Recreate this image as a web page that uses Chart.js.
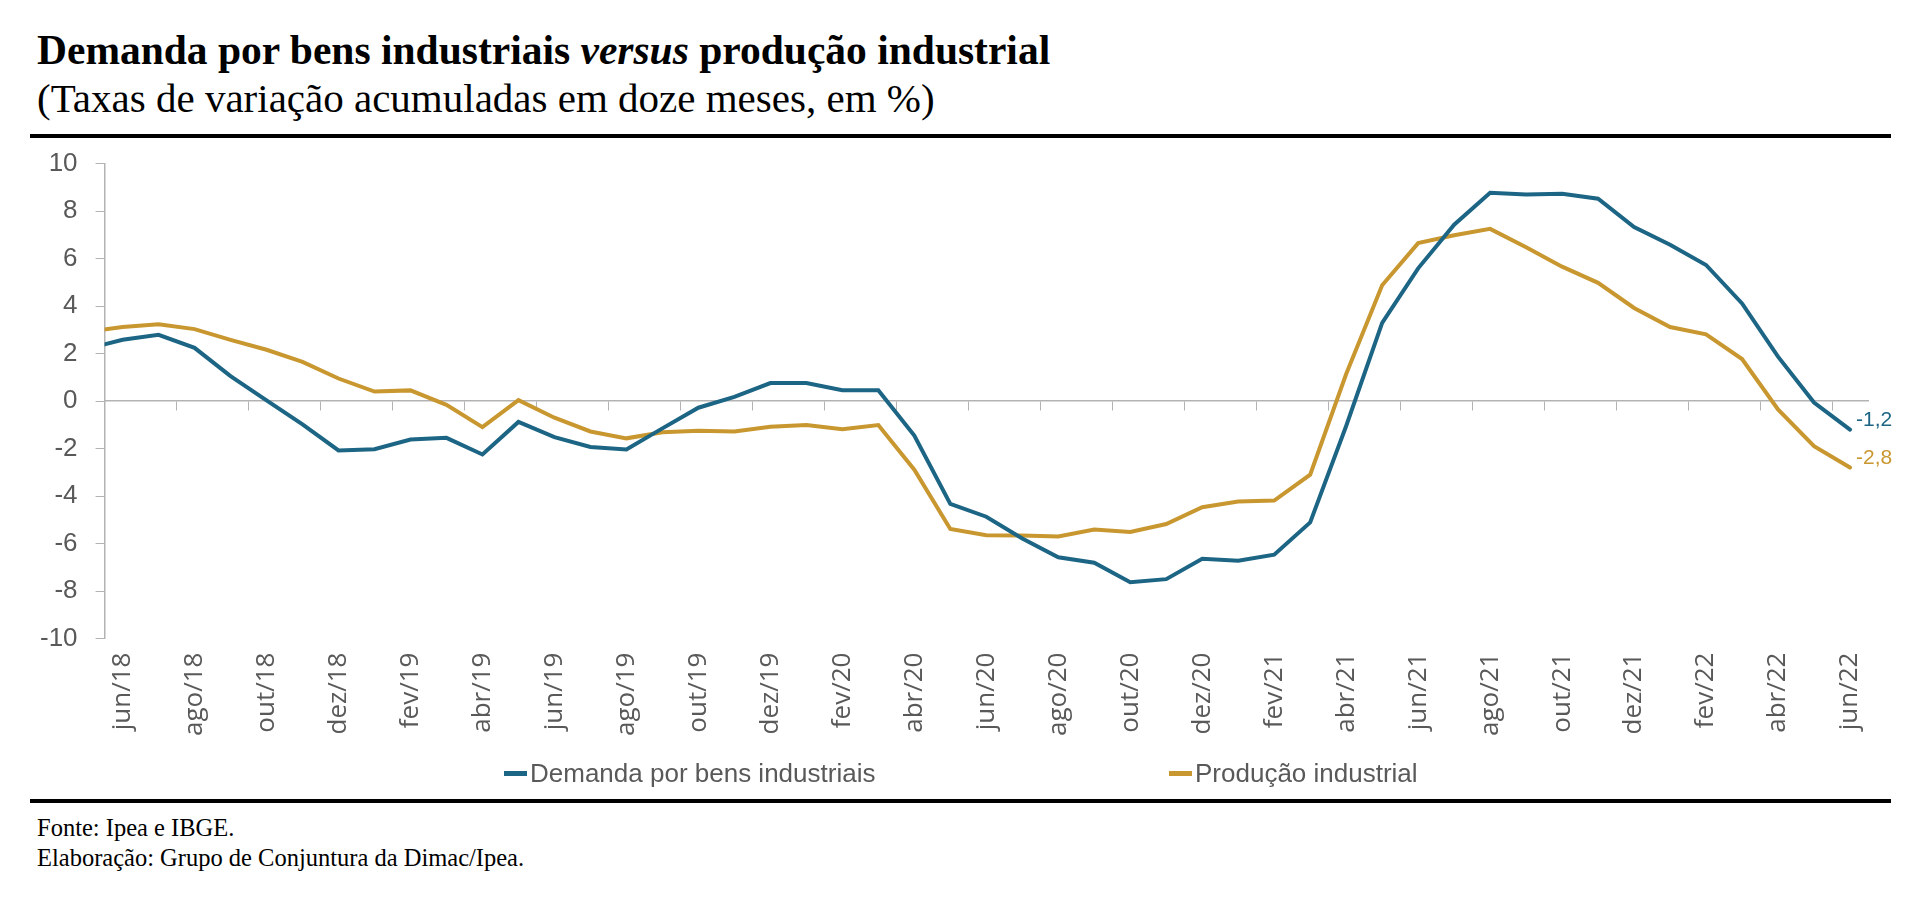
<!DOCTYPE html>
<html lang="pt-BR">
<head>
<meta charset="utf-8">
<title>Demanda por bens industriais versus produção industrial</title>
<script src="https://cdn.jsdelivr.net/npm/chart.js@4.4.1/dist/chart.umd.min.js"></script>
<style>
  html, body { margin: 0; padding: 0; background: #fff; }
  body { width: 1920px; height: 898px; position: relative; overflow: hidden; font-family: "Liberation Serif", "DejaVu Serif", serif; color: #000; }
  #titulo { position: absolute; left: 37px; top: 30px; font-size: 41.5px; line-height: 40px; font-weight: bold; white-space: nowrap; }
  #subtitulo { position: absolute; left: 37px; top: 78px; font-size: 41px; line-height: 40px; white-space: nowrap; }
  .regua { position: absolute; left: 30px; width: 1861px; height: 4px; background: #000; }
  #grafico { position: absolute; left: 0; top: 130px; width: 1920px; height: 630px; }
  #legenda { position: absolute; left: 0; top: 758px; width: 1920px; height: 30px; font-family: "Liberation Sans", Arial, sans-serif; font-size: 26px; color: #595959; }
  .item { position: absolute; top: 0; height: 30px; line-height: 30px; display: flex; align-items: center; white-space: nowrap; }
  .marca { display: inline-block; width: 23px; height: 5px; margin-right: 3px; }
  .rodape { position: absolute; left: 37px; font-size: 24.5px; line-height: 30px; white-space: nowrap; }
</style>
</head>
<body>
<div id="titulo">Demanda por bens industriais <i>versus</i> produção industrial</div>
<div id="subtitulo">(Taxas de variação acumuladas em doze meses, em %)</div>
<div class="regua" style="top:134px"></div>
<div id="grafico"><canvas id="cv"></canvas></div>
<div id="legenda"></div>
<div class="regua" style="top:799px"></div>
<div class="rodape" style="top:813px">Fonte: Ipea e IBGE.</div>
<div class="rodape" style="top:843px">Elaboração: Grupo de Conjuntura da Dimac/Ipea.</div>
<script>
// meses (mai/18 fica fora da área visível, só para o traço que entra pelo eixo)
var meses = ['mai/18','jun/18','jul/18','ago/18','set/18','out/18','nov/18','dez/18',
  'jan/19','fev/19','mar/19','abr/19','mai/19','jun/19','jul/19','ago/19','set/19','out/19','nov/19','dez/19',
  'jan/20','fev/20','mar/20','abr/20','mai/20','jun/20','jul/20','ago/20','set/20','out/20','nov/20','dez/20',
  'jan/21','fev/21','mar/21','abr/21','mai/21','jun/21','jul/21','ago/21','set/21','out/21','nov/21','dez/21',
  'jan/22','fev/22','mar/22','abr/22','mai/22','jun/22'];

var demanda = [2.2, 2.58, 2.79, 2.24, 1.05, 0.03, -0.98, -2.08,
  -2.03, -1.62, -1.55, -2.25, -0.88, -1.52, -1.93, -2.04, -1.15, -0.28, 0.18, 0.76,
  0.76, 0.46, 0.46, -1.45, -4.33, -4.87, -5.79, -6.58, -6.81, -7.63, -7.5, -6.64,
  -6.72, -6.47, -5.11, -1.05, 3.29, 5.59, 7.43, 8.77, 8.7, 8.73, 8.52, 7.33,
  6.58, 5.73, 4.11, 1.87, -0.06, -1.2];

var producao = [2.92, 3.12, 3.23, 3.03, 2.58, 2.16, 1.65, 0.95,
  0.4, 0.45, -0.16, -1.1, 0.04, -0.7, -1.28, -1.57, -1.31, -1.25, -1.28, -1.08,
  -1.01, -1.19, -1.01, -2.89, -5.39, -5.65, -5.66, -5.7, -5.41, -5.51, -5.18, -4.47,
  -4.23, -4.19, -3.1, 1.14, 4.88, 6.65, 6.98, 7.25, 6.48, 5.66, 4.98, 3.92,
  3.12, 2.81, 1.77, -0.35, -1.9, -2.8];

var series = ['Demanda por bens industriais', 'Produção industrial'];
var cores = ['#1d6584', '#c9972f'];
var primeiroMes = 'jun/18';

Chart.defaults.font.family = '"Liberation Sans", Arial, sans-serif';
Chart.defaults.font.size = 26;
Chart.defaults.color = '#595959';

var corEixo = '#b3b3b3';

// rótulo do último valor de cada série
var rotuloFinal = {
  id: 'rotuloFinal',
  afterDatasetsDraw: function(chart){
    var ctx = chart.ctx;
    ctx.save();
    ctx.font = '21px "Liberation Sans", Arial, sans-serif';
    ctx.textAlign = 'left';
    ctx.textBaseline = 'middle';
    chart.data.datasets.forEach(function(ds, i){
      var meta = chart.getDatasetMeta(i);
      var n = ds.data.length - 1;
      var pt = meta.data[n];
      ctx.fillStyle = ds.borderColor;
      ctx.fillText(ds.data[n].toFixed(1).replace('.', ','), pt.x + 6, pt.y - 9);
    });
    ctx.restore();
  }
};

var ctx = document.getElementById('cv').getContext('2d');
var grafico = new Chart(ctx, {
  type: 'line',
  data: {
    labels: meses,
    datasets: [
      { label: series[0], data: demanda, borderColor: cores[0], backgroundColor: cores[0] },
      { label: series[1], data: producao, borderColor: cores[1], backgroundColor: cores[1] }
    ]
  },
  options: {
    responsive: true,
    maintainAspectRatio: false,
    animation: false,
    layout: { padding: { left: 22, right: 52, top: 13, bottom: 10 } },
    elements: {
      line: { borderWidth: 4, tension: 0, borderCapStyle: 'round' },
      point: { radius: 0, hoverRadius: 0 }
    },
    plugins: { legend: { display: false }, tooltip: { enabled: false } },
    scales: {
      x: {
        type: 'category',
        offset: true,
        min: primeiroMes,
        grid: { display: false, drawTicks: false },
        border: { display: false },
        ticks: {
          autoSkip: false, minRotation: 90, maxRotation: 90, padding: 14,
          font: { family: '"Open Sans", "Liberation Sans", sans-serif', size: 26 },
          callback: function(v){ return v % 2 === 1 ? meses[v] : ''; }
        }
      },
      x2: {
        type: 'category',
        axis: 'x',
        position: { y: 0 },
        offset: true,
        min: primeiroMes,
        grid: {
          drawOnChartArea: false, drawTicks: true, tickLength: 9, offset: true,
          color: function(c){ return (c.index !== undefined && c.index % 2 === 0) ? corEixo : 'rgba(0,0,0,0)'; }
        },
        border: { display: true, color: corEixo, width: 1.5 },
        ticks: { display: false, autoSkip: false }
      },
      y: {
        min: -10, max: 10,
        ticks: { stepSize: 2, padding: 18 },
        grid: { drawOnChartArea: false, drawTicks: true, tickLength: 9, color: corEixo },
        border: { display: true, color: corEixo, width: 1.5 }
      }
    }
  },
  plugins: [rotuloFinal]
});

// legenda
var posLegenda = [504, 1169];
var leg = document.getElementById('legenda');
grafico.data.datasets.forEach(function(ds, i){
  var it = document.createElement('div');
  it.className = 'item';
  it.style.left = posLegenda[i] + 'px';
  var m = document.createElement('span');
  m.className = 'marca';
  m.style.background = ds.borderColor;
  it.appendChild(m);
  it.appendChild(document.createTextNode(ds.label));
  leg.appendChild(it);
});
</script>
</body>
</html>
